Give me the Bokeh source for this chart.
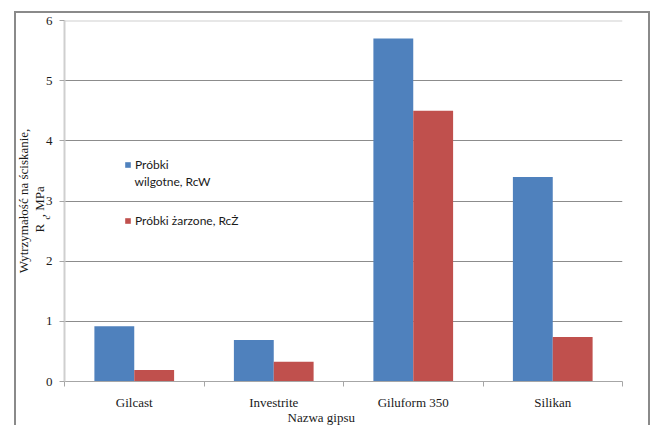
from bokeh.plotting import figure
from bokeh.models import (ColumnDataSource, FixedTicker, Label, Legend, LegendItem,
                          Range1d, Title, Span, InlineStyleSheet)
from bokeh.embed import file_html
from bokeh.resources import INLINE

# data
gipsy = ["Gilcast", "Investrite", "Giluform 350", "Silikan"]
rc_wilgotne = [0.92, 0.69, 5.70, 3.40]   # Próbki wilgotne, RcW
rc_zarzone = [0.19, 0.33, 4.50, 0.74]    # Próbki żarzone, RcŻ
y_ticks = [0, 1, 2, 3, 4, 5, 6]

BLUE = "#4f81bd"
RED = "#c0504d"
SERIF = "Liberation Serif"
INK = "#1a1a1a"

bar_w = 1 / 3.5  # Excel-like gap width 150%
centers = [i + 0.5 for i in range(len(gipsy))]

src = ColumnDataSource(data=dict(
    x_w=[c - bar_w / 2 for c in centers],
    x_z=[c + bar_w / 2 for c in centers],
    rcw=rc_wilgotne,
    rcz=rc_zarzone,
))

p = figure(width=653, height=425, output_backend="svg", toolbar_location=None,
           x_range=Range1d(0, len(gipsy)), y_range=Range1d(y_ticks[0], y_ticks[-1]),
           min_border_left=64, min_border_right=31, min_border_top=20,
           min_border_bottom=44)
p.outline_line_color = None
# grey frame around the whole chart area
p.stylesheets = [InlineStyleSheet(css=""":host::after {
    content: ""; position: absolute; left: 14px; top: 11px; right: 3px; bottom: -4px;
    border: 2px solid #8a8a8a; pointer-events: none; }""")]

rw = p.vbar(x="x_w", top="rcw", width=bar_w, source=src, fill_color=BLUE, line_color=None)
rz = p.vbar(x="x_z", top="rcz", width=bar_w, source=src, fill_color=RED, line_color=None)

# category names between the boundary ticks
p.xaxis.ticker = FixedTicker(ticks=centers, minor_ticks=list(range(len(gipsy) + 1)))
p.xaxis.major_label_overrides = {c: g for c, g in zip(centers, gipsy)}
p.xaxis.major_tick_line_color = None
p.xaxis.major_tick_out = 0
p.xaxis.minor_tick_out = 5
p.xaxis.minor_tick_in = 0
p.xaxis.minor_tick_line_color = "#a6a6a6"
p.xaxis.axis_line_color = "#a6a6a6"
p.xaxis.major_label_standoff = 8
p.xaxis.major_label_text_font = SERIF
p.xaxis.major_label_text_font_size = "13px"
p.xaxis.major_label_text_color = INK
p.xgrid.grid_line_color = None

p.yaxis.ticker = FixedTicker(ticks=y_ticks, minor_ticks=[])
p.yaxis.axis_line_color = "#cfcfcf"
p.yaxis.axis_line_width = 2
p.yaxis.major_tick_line_color = "#a6a6a6"
p.yaxis.major_tick_out = 5
p.yaxis.major_tick_in = 0
p.yaxis.major_label_standoff = 7
p.yaxis.major_label_text_font = SERIF
p.yaxis.major_label_text_font_size = "13px"
p.yaxis.major_label_text_color = INK
p.ygrid.ticker = FixedTicker(ticks=y_ticks[1:-1])
p.ygrid.grid_line_color = "#8c8c8c"
# top line of the plot area is lighter than the inner grid
p.add_layout(Span(location=y_ticks[-1], dimension="width", line_color="#cfcfcf",
                  line_width=2))


def title(text, where, size="13px", align="center", offset=0, standoff=0):
    p.add_layout(Title(text=text, align=align, offset=offset, standoff=standoff,
                       text_font=SERIF, text_font_size=size, text_font_style="normal",
                       text_color=INK), where)


# y axis title: second line (with subscript c) next to the axis, first line outside
title("c", "left", size="9px", align="left", offset=162, standoff=-18)
title("R\u2002, MPa", "left", align="left", offset=149, standoff=-8)
title("Wytrzymałość na ściskanie,", "left", standoff=6)

# x axis title
title("Nazwa gipsu", "below", align="left", offset=223, standoff=-9)

legend = Legend(items=[
    LegendItem(label="Próbki", renderers=[rw]),
    LegendItem(label="Próbki żarzone, RcŻ", renderers=[rz]),
], location=(60, 151))
legend.background_fill_alpha = 0
legend.border_line_color = None
legend.padding = 0
legend.margin = 0
legend.spacing = 36
legend.label_height = 20
legend.glyph_width = 7
legend.glyph_height = 7
legend.label_standoff = 4
legend.label_text_font = "Lato"
legend.label_text_font_size = "12px"
legend.label_text_color = INK
p.add_layout(legend)
p.add_layout(Label(x=70, y=200, x_units="screen", y_units="screen",
                   text="wilgotne, RcW", text_baseline="middle",
                   text_font="Lato", text_font_size="12px", text_color=INK))

open("out.html", "w").write(file_html(p, INLINE))
